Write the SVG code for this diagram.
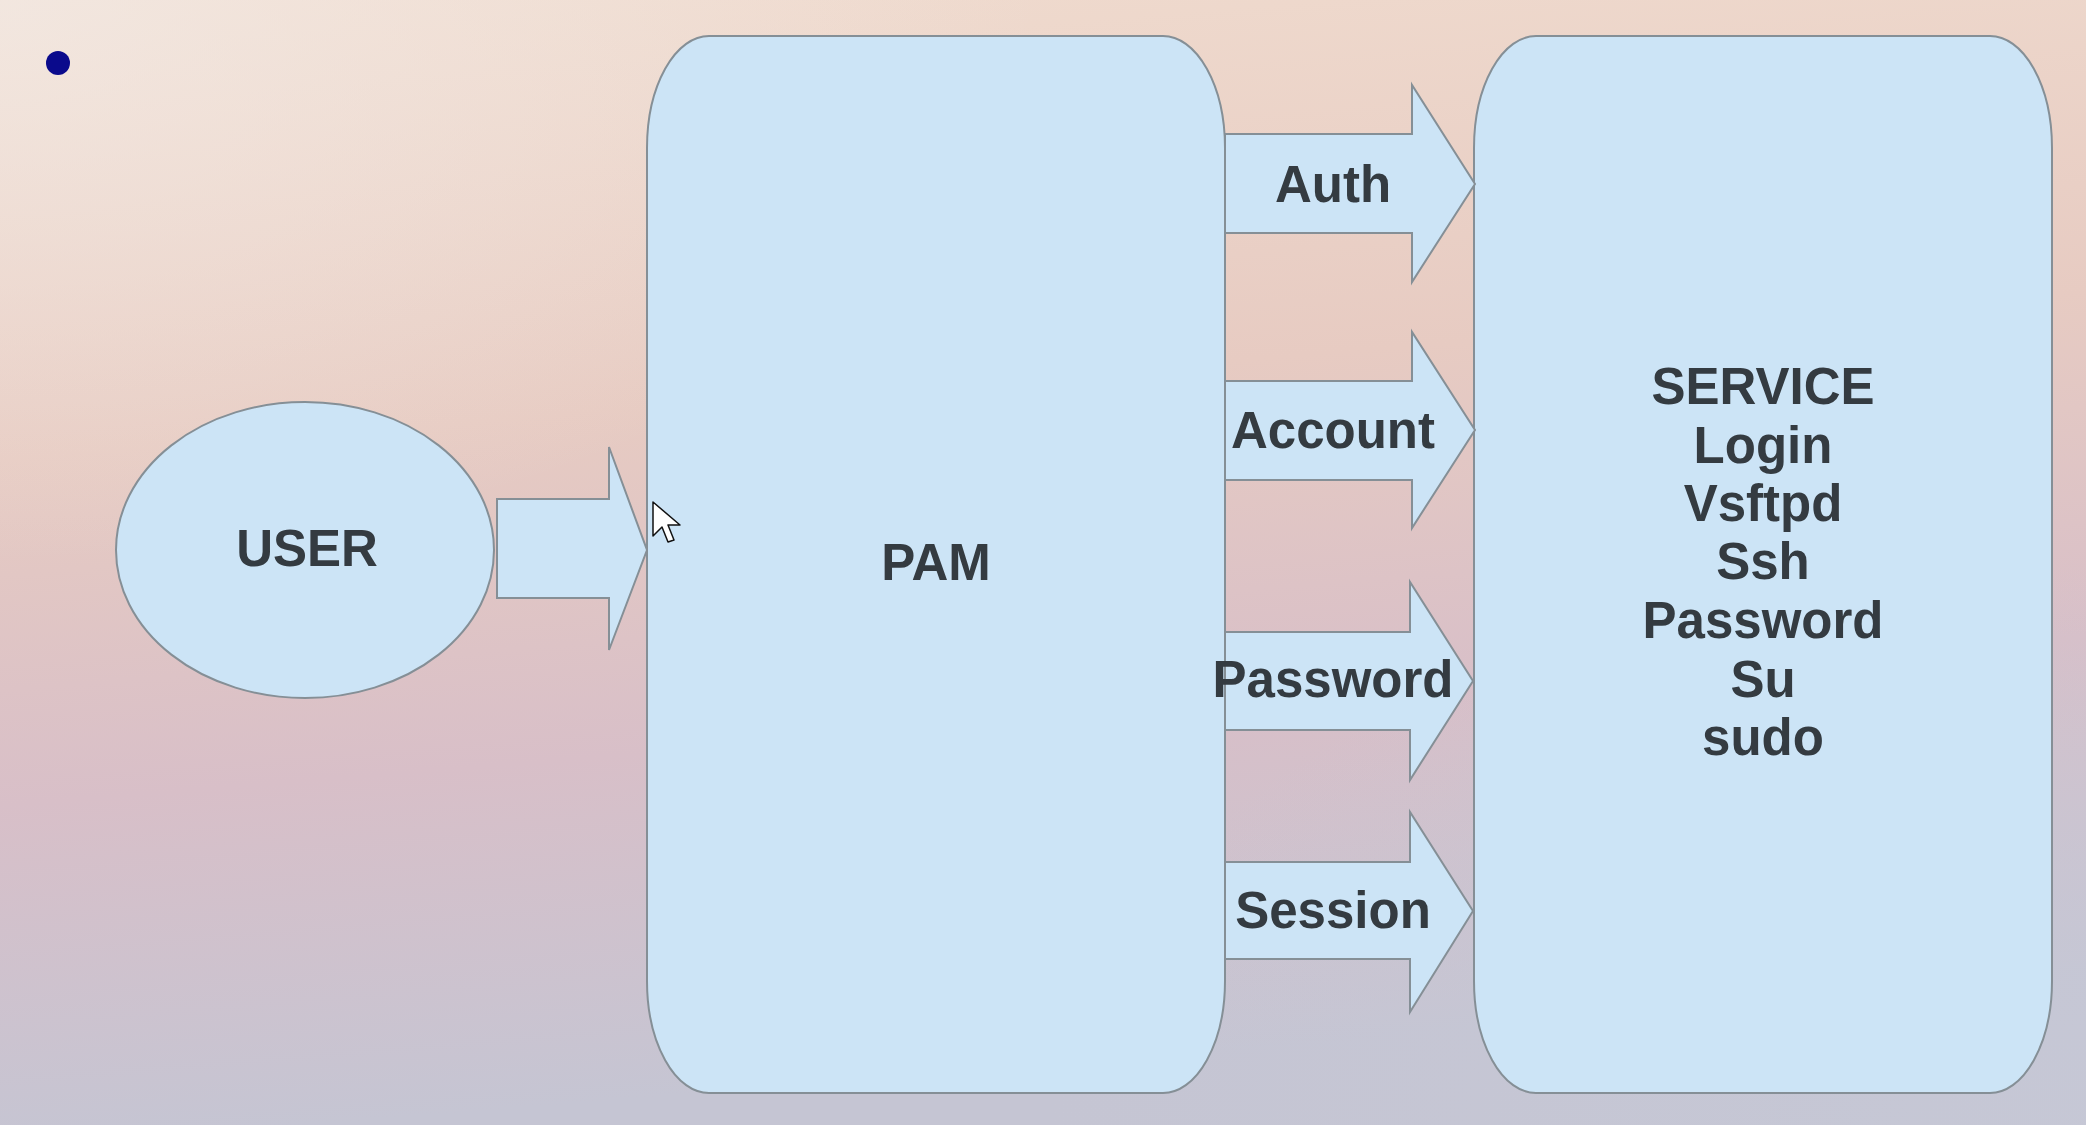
<svg xmlns="http://www.w3.org/2000/svg" width="2086" height="1125" viewBox="0 0 2086 1125">
<defs>
<linearGradient id="bg" x1="0" y1="0" x2="0.15" y2="1">
<stop offset="0" stop-color="#f0dccf"/>
<stop offset="0.4" stop-color="#e7cbc2"/>
<stop offset="0.7" stop-color="#d8bfc8"/>
<stop offset="1" stop-color="#c5c5d3"/>
</linearGradient>
<radialGradient id="tl" cx="0" cy="0" r="0.5">
<stop offset="0" stop-color="#f3ebe6" stop-opacity="0.7"/>
<stop offset="1" stop-color="#f3ebe6" stop-opacity="0"/>
</radialGradient>
<radialGradient id="br" cx="1" cy="1" r="0.5">
<stop offset="0" stop-color="#c6c8d6" stop-opacity="0.8"/>
<stop offset="1" stop-color="#c6c8d6" stop-opacity="0"/>
</radialGradient>
<style>
.shape{fill:#cce4f6;stroke:#858f96;stroke-width:2}
.lbl{font-family:"Liberation Sans",Arial,sans-serif;font-weight:bold;font-size:51px;fill:#343b41;text-anchor:middle}
</style>
</defs>
<rect width="2086" height="1125" fill="url(#bg)"/>
<rect width="2086" height="1125" fill="url(#tl)"/>
<rect width="2086" height="1125" fill="url(#br)"/>
<ellipse cx="58" cy="63" rx="12" ry="12" fill="#0a0a8c"/>
<g id="user">
<ellipse class="shape" cx="305" cy="550" rx="189" ry="148"/>
<text class="lbl" x="307" y="566">USER</text>
</g>
<g id="pam">
<rect class="shape" x="647" y="36" width="578" height="1057" rx="62" ry="112"/>
<text class="lbl" x="936" y="580">PAM</text>
</g>
<g id="service">
<rect class="shape" x="1474" y="36" width="578" height="1057" rx="62" ry="112"/>
<text class="lbl" x="1763" y="404">SERVICE</text>
<text class="lbl" x="1763" y="463">Login</text>
<text class="lbl" x="1763" y="521">Vsftpd</text>
<text class="lbl" x="1763" y="579">Ssh</text>
<text class="lbl" x="1763" y="638">Password</text>
<text class="lbl" x="1763" y="697">Su</text>
<text class="lbl" x="1763" y="755">sudo</text>
</g>
<g id="connectors">
<path class="shape" d="M497,499 H609 V447 L647,550 L609,650 V598 H497 Z"/>
<path class="shape" d="M1225,134 H1412 V85 L1475,184 L1412,282 V233 H1225 Z"/>
<path class="shape" d="M1225,381 H1412 V332 L1475,430 L1412,528 V480 H1225 Z"/>
<path class="shape" d="M1225,632 H1410 V582 L1473,681 L1410,780 V730 H1225 Z"/>
<path class="shape" d="M1225,862 H1410 V812 L1473,911 L1410,1012 V959 H1225 Z"/>
<text class="lbl" x="1333" y="202">Auth</text>
<text class="lbl" x="1333" y="448">Account</text>
<text class="lbl" x="1333" y="697">Password</text>
<text class="lbl" x="1333" y="928">Session</text>
</g>
<path d="M653,502 V536 L662,527 L668,542 L674,540 L668,525 L680,525 Z" fill="#ffffff" stroke="#111111" stroke-width="1.5" stroke-linejoin="round"/>
</svg>
